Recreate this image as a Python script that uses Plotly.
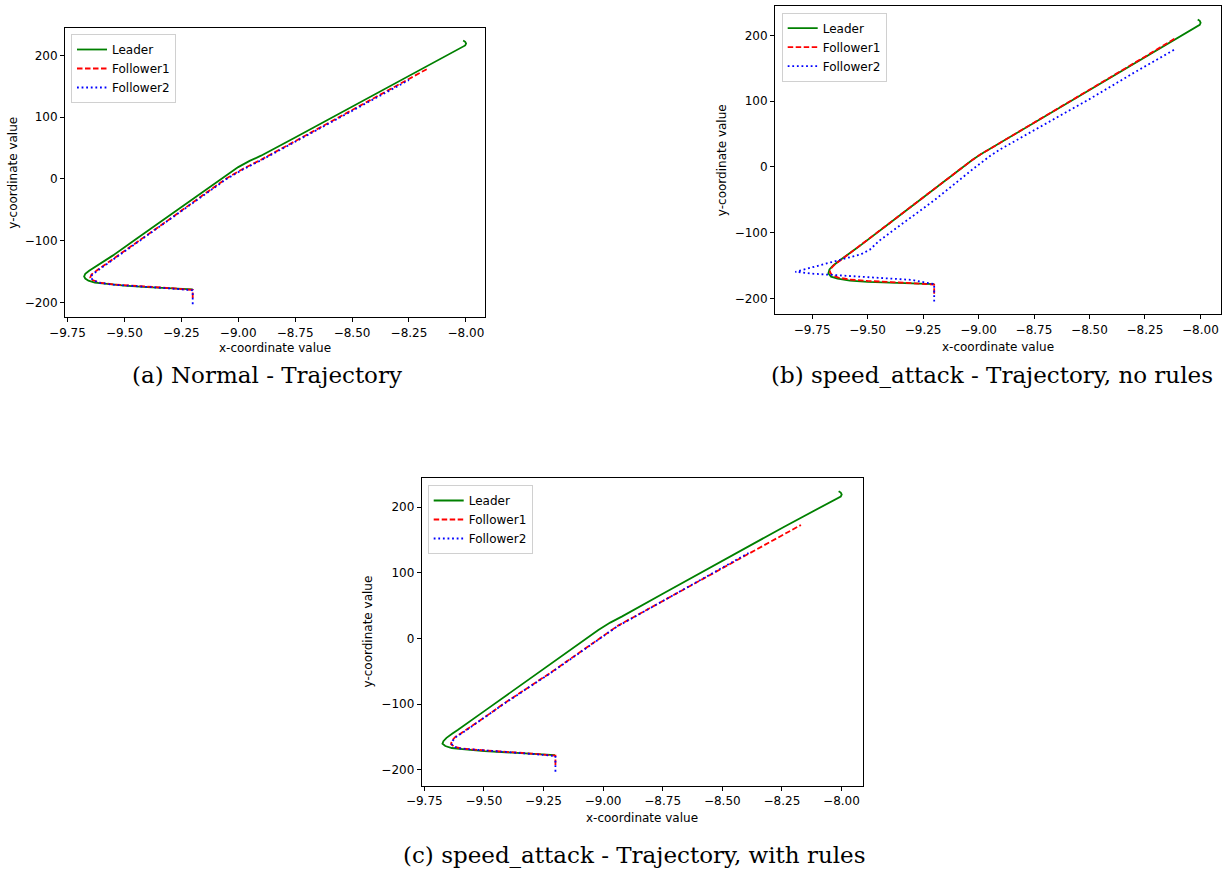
import plotly.graph_objects as go

# ---------------- data ----------------
# Panel (a) Normal - Trajectory
a_leader_x = [-9.200, -9.30, -9.40, -9.50, -9.58, -9.630, -9.658, -9.672, -9.677, -9.672, -9.655, -9.620,
              -9.55, -9.45, -9.30, -9.15, -9.05, -9.00, -8.95, -8.90, -8.75, -8.50, -8.25, -8.05,
              -8.003, -7.999, -8.003, -8.012]
a_leader_y = [-179.0, -177.5, -175.5, -173.0, -170.5, -168.0, -165.0, -161.5, -158.0, -154.0, -149.0, -141.0,
              -124.0, -98.0, -59.0, -19.0, 6.0, 19.0, 29.0, 37.5, 67.0, 117.0, 167.0, 207.0,
              216.0, 219.0, 222.0, 224.0]
a_f1_x = [-9.200, -9.200, -9.30, -9.45, -9.55, -9.610, -9.640, -9.650, -9.645, -9.620, -9.55, -9.45,
          -9.30, -9.15, -9.05, -8.98, -8.90, -8.75, -8.50, -8.30, -8.17]
a_f1_y = [-193.0, -180.0, -177.0, -174.0, -171.0, -168.0, -164.0, -160.0, -155.0, -148.0, -130.0, -104.0,
          -65.0, -25.0, 1.0, 16.0, 31.0, 61.0, 111.0, 151.0, 178.0]
a_f2_x = [-9.200, -9.200, -9.30, -9.45, -9.55, -9.608, -9.637, -9.647, -9.642, -9.617, -9.55, -9.45,
          -9.30, -9.15, -9.05, -8.98, -8.90, -8.75, -8.50, -8.25]
a_f2_y = [-203.0, -180.5, -177.5, -174.5, -171.5, -168.5, -164.5, -160.5, -155.5, -148.5, -131.0, -105.0,
          -66.0, -26.0, 0.0, 15.0, 30.0, 60.0, 110.0, 160.0]

# Panel (b) speed_attack - Trajectory, no rules
b_leader_x = [-9.200, -9.30, -9.40, -9.50, -9.58, -9.635, -9.665, -9.677, -9.672, -9.655, -9.625, -9.55,
              -9.40, -9.25, -9.10, -9.03, -8.99, -8.95, -8.90, -8.75, -8.50, -8.25, -8.10,
              -8.003, -7.999, -8.003, -8.012]
b_leader_y = [-178.5, -177.5, -176.5, -175.0, -173.0, -170.0, -167.0, -162.0, -156.0, -150.0, -142.0, -124.0,
              -85.3, -46.6, -7.9, 10.0, 19.0, 27.0, 36.5, 67.5, 117.5, 167.5, 197.5,
              216.0, 219.0, 222.0, 224.0]
b_f1_x = [-9.200, -9.200, -9.30, -9.40, -9.50, -9.58, -9.632, -9.660, -9.670, -9.666, -9.650, -9.622,
          -9.55, -9.40, -9.25, -9.10, -9.03, -8.99, -8.95, -8.90, -8.75, -8.50, -8.25, -8.116]
b_f1_y = [-193.0, -179.0, -177.0, -175.5, -173.5, -171.5, -168.5, -165.0, -160.0, -155.0, -149.0, -142.0,
          -124.0, -85.3, -46.6, -7.9, 10.0, 19.0, 27.0, 36.5, 67.5, 117.5, 167.5, 195.0]
b_f2_x = [-9.200, -9.200, -9.30, -9.40, -9.50, -9.60, -9.68, -9.75, -9.826, -9.75, -9.67, -9.60,
          -9.53, -9.49, -9.45, -9.39, -9.20, -9.02, -8.95, -8.90, -8.83, -8.50, -8.30, -8.116]
b_f2_y = [-205.0, -178.5, -172.0, -170.0, -168.5, -166.5, -164.5, -162.5, -159.7, -153.0, -146.0, -139.0,
          -133.0, -126.0, -113.0, -98.0, -51.0, -2.0, 16.0, 27.0, 40.5, 103.0, 143.0, 178.5]

# Panel (c) speed_attack - Trajectory, with rules
c_leader_x = [-9.202, -9.35, -9.498, -9.58, -9.635, -9.662, -9.674, -9.670, -9.657, -9.632, -9.610,
              -9.50, -9.428, -9.219, -9.08, -9.02, -8.97, -8.92, -8.744, -8.492, -8.24,
              -8.003, -7.999, -8.003, -8.012]
c_leader_y = [-177.7, -175.0, -171.6, -169.0, -167.0, -164.0, -160.5, -156.5, -151.5, -145.0, -139.6,
              -111.2, -92.6, -38.7, -2.8, 12.7, 24.0, 33.5, 69.0, 119.5, 170.0,
              216.0, 219.0, 222.0, 224.0]
c_f1_x = [-9.200, -9.200, -9.30, -9.428, -9.52, -9.596, -9.625, -9.638, -9.635, -9.620, -9.596,
          -9.50, -9.415, -9.219, -9.05, -8.98, -8.939, -8.869, -8.66, -8.38, -8.17]
c_f1_y = [-193.0, -178.7, -175.5, -172.6, -170.0, -167.5, -165.0, -161.0, -156.0, -150.0, -144.7,
          -121.0, -99.0, -52.0, -9.0, 8.0, 19.0, 33.0, 75.0, 130.0, 172.6]
c_f2_x = [-9.200, -9.200, -9.30, -9.428, -9.52, -9.594, -9.622, -9.634, -9.631, -9.616, -9.592,
          -9.50, -9.415, -9.219, -9.05, -8.98, -8.939, -8.869, -8.66, -8.39]
c_f2_y = [-203.0, -179.2, -176.0, -173.0, -170.5, -168.0, -165.5, -161.5, -156.0, -150.0, -144.5,
          -121.5, -99.5, -52.5, -9.5, 7.5, 18.5, 32.5, 74.5, 130.0]

x_tick_vals = [-9.75, -9.50, -9.25, -9.00, -8.75, -8.50, -8.25, -8.00]
x_tick_text = ["\u22129.75", "\u22129.50", "\u22129.25", "\u22129.00", "\u22128.75", "\u22128.50", "\u22128.25", "\u22128.00"]
y_tick_vals = [-200, -100, 0, 100, 200]
y_tick_text = ["\u2212200", "\u2212100", "0", "100", "200"]

series_names = ["Leader", "Follower1", "Follower2"]
captions = ["(a) Normal - Trajectory",
            "(b) speed_attack - Trajectory, no rules",
            "(c) speed_attack - Trajectory, with rules"]
x_title = "x-coordinate value"
y_title = "y-coordinate value"

# ---------------- figure ----------------
W, H = 1225, 871
SANS = "DejaVu Sans, sans-serif"
SERIF = "DejaVu Serif, serif"

# axes boxes in pixels: (left, right, top, bottom)
boxes = [(65, 485, 28, 317.3), (775, 1220.7, 6, 314.3), (421.7, 862.7, 478.3, 785.7)]
xranges = [[-9.761, -7.916], [-9.9175, -7.9085], [-9.761, -7.911]]
yranges = [[-224.3, 244.3], [-224.3, 244.6], [-224.4, 243.7]]
legend_pos = [(71, 34), (781.7, 12.7), (427.7, 485)]
caption_pos = [(266.7, 375), (992, 375), (634, 855)]
xtitle_y = [348, 347, 818]
ytitle_x = [13, 722, 367.5]

panels = [
    (a_leader_x, a_leader_y, a_f1_x, a_f1_y, a_f2_x, a_f2_y),
    (b_leader_x, b_leader_y, b_f1_x, b_f1_y, b_f2_x, b_f2_y),
    (c_leader_x, c_leader_y, c_f1_x, c_f1_y, c_f2_x, c_f2_y),
]
styles = [dict(color="#008000", width=1.8, dash="solid"),
          dict(color="#ff0000", width=1.8, dash="5.5px,2.5px"),
          dict(color="#0000ff", width=1.8, dash="1.8px,2.8px")]

fig = go.Figure()
layout = dict(width=W, height=H, margin=dict(l=0, r=0, t=0, b=0, autoexpand=False),
              paper_bgcolor="white", plot_bgcolor="white", showlegend=True,
              font=dict(family=SANS, size=12, color="#000"))
annotations = []

for i, (panel, box, xr, yr, lp, cp, cap, xty, ytx) in enumerate(
        zip(panels, boxes, xranges, yranges, legend_pos, caption_pos, captions, xtitle_y, ytitle_x)):
    sfx = "" if i == 0 else str(i + 1)
    lx, ly, f1x, f1y, f2x, f2y = panel
    legend_name = "legend" + sfx
    for name, xs, ys, st in zip(series_names, [lx, f1x, f2x], [ly, f1y, f2y], styles):
        fig.add_trace(go.Scatter(x=xs, y=ys, mode="lines", name=name, line=st,
                                 xaxis="x" + sfx, yaxis="y" + sfx, legend=legend_name))
    left, right, top, bottom = box
    axis_common = dict(showline=True, linecolor="#000", linewidth=1, mirror=True,
                       ticks="outside", ticklen=4, tickwidth=1, tickcolor="#000",
                       showgrid=False, zeroline=False, automargin=False,
                       tickfont=dict(family=SANS, size=12, color="#000"))
    layout["xaxis" + sfx] = dict(axis_common, domain=[left / W, right / W], range=xr,
                                  anchor="y" + sfx, tickvals=x_tick_vals, ticktext=x_tick_text)
    layout["yaxis" + sfx] = dict(axis_common, domain=[1 - bottom / H, 1 - top / H], range=yr,
                                  anchor="x" + sfx, tickvals=y_tick_vals, ticktext=y_tick_text)
    layout[legend_name] = dict(x=lp[0] / W, y=1 - lp[1] / H, xanchor="left", yanchor="top",
                               bgcolor="rgba(255,255,255,0.8)", bordercolor="#d0d0d0", borderwidth=1,
                               font=dict(family=SANS, size=12, color="#000"),
                               tracegroupgap=0, itemwidth=30)
    annotations.append(dict(text=x_title, x=(left + right) / 2 / W, y=1 - xty / H,
                            xref="paper", yref="paper", xanchor="center", yanchor="middle",
                            showarrow=False, font=dict(family=SANS, size=12, color="#000")))
    annotations.append(dict(text=y_title, x=ytx / W, y=1 - (top + bottom) / 2 / H,
                            xref="paper", yref="paper", xanchor="center", yanchor="middle",
                            textangle=-90, showarrow=False,
                            font=dict(family=SANS, size=12, color="#000")))
    annotations.append(dict(text=cap, x=cp[0] / W, y=1 - cp[1] / H, xref="paper", yref="paper",
                            xanchor="center", yanchor="middle", showarrow=False,
                            font=dict(family=SERIF, size=23, color="#000")))

layout["annotations"] = annotations
fig.update_layout(**layout)
fig.write_html("out.html")
